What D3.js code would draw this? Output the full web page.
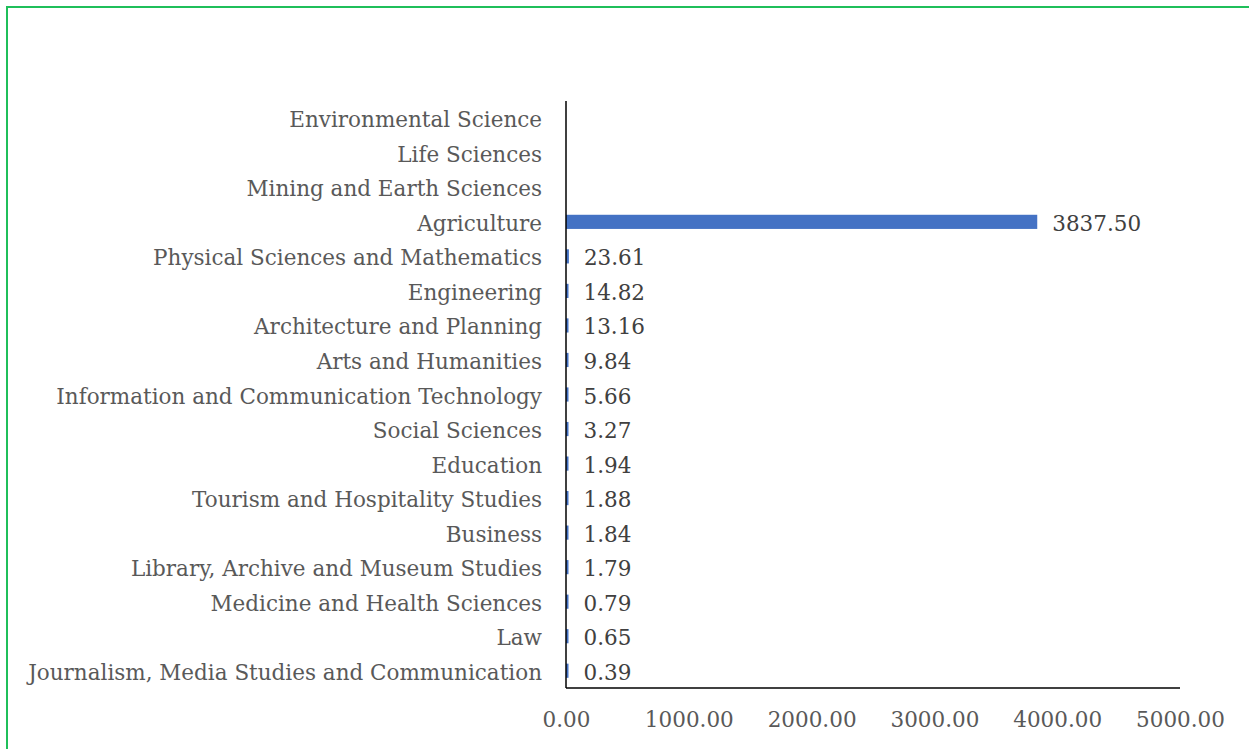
<!DOCTYPE html>
<html>
<head>
<meta charset="utf-8">
<script src="https://cdn.jsdelivr.net/npm/d3@7"></script>
<style>
  html, body { margin: 0; padding: 0; background: #fff; overflow: hidden; }
  svg { display: block; }
</style>
</head>
<body>
<div id="chart"></div>
<script>
// categories, top to bottom as drawn
const categories = [
  'Environmental Science',
  'Life Sciences',
  'Mining and Earth Sciences',
  'Agriculture',
  'Physical Sciences and Mathematics',
  'Engineering',
  'Architecture and Planning',
  'Arts and Humanities',
  'Information and Communication Technology',
  'Social Sciences',
  'Education',
  'Tourism and Hospitality Studies',
  'Business',
  'Library, Archive and Museum Studies',
  'Medicine and Health Sciences',
  'Law',
  'Journalism, Media Studies and Communication'
];
// null = no bar / no label
const values = [null, null, null, 3837.50, 23.61, 14.82, 13.16, 9.84, 5.66, 3.27, 1.94, 1.88, 1.84, 1.79, 0.79, 0.65, 0.39];
const xTicks = [0, 1000, 2000, 3000, 4000, 5000];

const W = 1249, H = 749;
const margin = { top: 101, right: 69, bottom: 61, left: 566 };
const width = W - margin.left - margin.right;
const height = H - margin.top - margin.bottom;

const svg = d3.select('#chart')
  .append('svg')
  .attr('width', W)
  .attr('height', H);

// green frame (right / bottom edges fall outside the picture)
svg.append('path')
  .attr('d', `M7,${H}V7H${W}`)
  .attr('fill', 'none')
  .attr('stroke', '#1fbf5a')
  .attr('stroke-width', 2);

const g = svg.append('g')
  .attr('transform', `translate(${margin.left},${margin.top})`);

const x = d3.scaleLinear()
  .domain([0, 5000])
  .range([0, width]);

const y = d3.scaleBand()
  .domain(categories)
  .range([0, height])
  .paddingInner(0.59)
  .paddingOuter(0.295);

const data = categories.map((c, i) => ({ category: c, value: values[i] }));
const font = '"DejaVu Serif", "Liberation Serif", serif';
const fontSize = '21.5px';

// Bars
g.selectAll('.bar')
  .data(data.filter(d => d.value !== null))
  .enter().append('rect')
  .attr('class', 'bar')
  .attr('x', 0)
  .attr('y', d => y(d.category))
  .attr('width', d => Math.max(x(d.value), 2.5))
  .attr('height', y.bandwidth())
  .attr('fill', '#4472c4');

// Value labels
g.selectAll('.label')
  .data(data.filter(d => d.value !== null))
  .enter().append('text')
  .attr('class', 'label')
  .attr('x', d => Math.max(x(d.value), 2.5) + 15)
  .attr('y', d => y(d.category) + y.bandwidth() / 2)
  .attr('dy', '.42em')
  .style('font-family', font)
  .style('font-size', fontSize)
  .style('fill', '#404040')
  .text(d => d3.format('.2f')(d.value));

// Y axis
const yAxis = g.append('g')
  .call(d3.axisLeft(y).tickSize(0).tickPadding(24));

yAxis.selectAll('text')
  .attr('dy', '.42em')
  .style('font-family', font)
  .style('font-size', fontSize)
  .style('fill', '#595959');

yAxis.select('.domain')
  .attr('d', `M0,0V${height}`)
  .style('stroke', '#000')
  .style('stroke-width', '1.5px');

// X axis
const xAxis = g.append('g')
  .attr('transform', `translate(0,${height})`)
  .call(d3.axisBottom(x).tickValues(xTicks).tickSize(0).tickPadding(24).tickFormat(d3.format('.2f')));

xAxis.selectAll('text')
  .style('font-family', font)
  .style('font-size', fontSize)
  .style('fill', '#595959');

xAxis.select('.domain')
  .attr('d', `M0,0H${width}`)
  .style('stroke', '#000')
  .style('stroke-width', '1.5px');
</script>
</body>
</html>
